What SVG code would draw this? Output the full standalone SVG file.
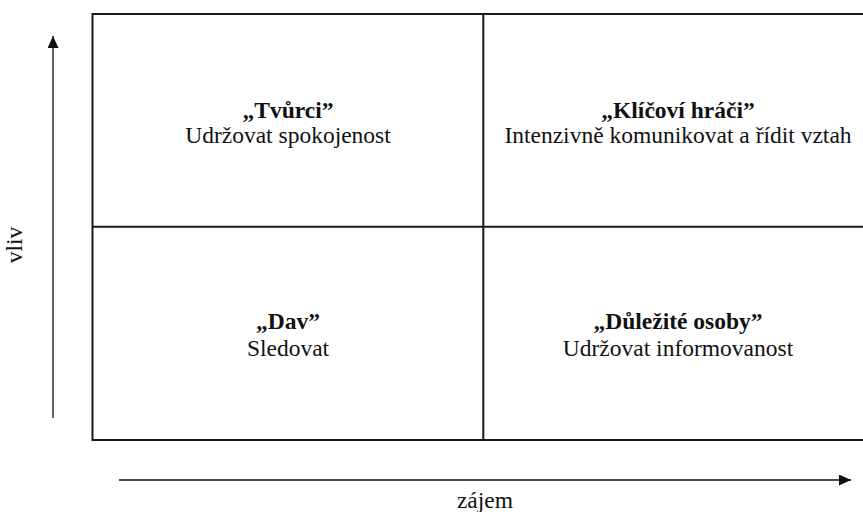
<svg xmlns="http://www.w3.org/2000/svg" width="863" height="512" viewBox="0 0 863 512">
  <style>
    .grid { fill: none; stroke: #1a1a1a; stroke-width: 2; }
    .axis { fill: none; stroke: #111; stroke-width: 1.3; }
    .lbl { font-size: 23.5px; fill: #111; text-anchor: middle; }
    .title { font-weight: bold; }
  </style>
  <defs>
    <marker id="arrowhead" viewBox="0 0 12 11" refX="12" refY="5.5" markerWidth="12" markerHeight="11" markerUnits="userSpaceOnUse" orient="auto">
      <path d="M0,0 L12,5.5 L0,11 Z" fill="#111"/>
    </marker>
  </defs>

  <!-- axes -->
  <g id="connectors">
    <line class="axis" x1="53" y1="418" x2="53" y2="36" marker-end="url(#arrowhead)"/>
    <line class="axis" x1="119" y1="480" x2="851" y2="480" marker-end="url(#arrowhead)"/>
  </g>

  <!-- 2x2 matrix -->
  <g id="matrix">
    <rect class="grid" x="92.5" y="14" width="781" height="426"/>
    <line class="grid" x1="483.3" y1="14" x2="483.3" y2="440"/>
    <line class="grid" x1="92.5" y1="226.7" x2="873.5" y2="226.7"/>
  </g>

  <g font-family="Liberation Serif, Tinos, DejaVu Serif, serif">
    <g id="q-tvurci">
      <text class="lbl title" x="288" y="118">„Tvůrci”</text>
      <text class="lbl" x="288" y="143">Udržovat spokojenost</text>
    </g>
    <g id="q-klicovi-hraci">
      <text class="lbl title" x="678" y="118">„Klíčoví hráči”</text>
      <text class="lbl" x="678" y="143">Intenzivně komunikovat a řídit vztah</text>
    </g>
    <g id="q-dav">
      <text class="lbl title" x="288" y="329">„Dav”</text>
      <text class="lbl" x="288" y="356">Sledovat</text>
    </g>
    <g id="q-dulezite-osoby">
      <text class="lbl title" x="678" y="329">„Důležité osoby”</text>
      <text class="lbl" x="678" y="356">Udržovat informovanost</text>
    </g>

    <!-- axis labels -->
    <g id="label-vliv">
      <text class="lbl" transform="translate(22 245) rotate(-90)">vliv</text>
    </g>
    <g id="label-zajem">
      <text class="lbl" x="485" y="508">zájem</text>
    </g>
  </g>
</svg>
